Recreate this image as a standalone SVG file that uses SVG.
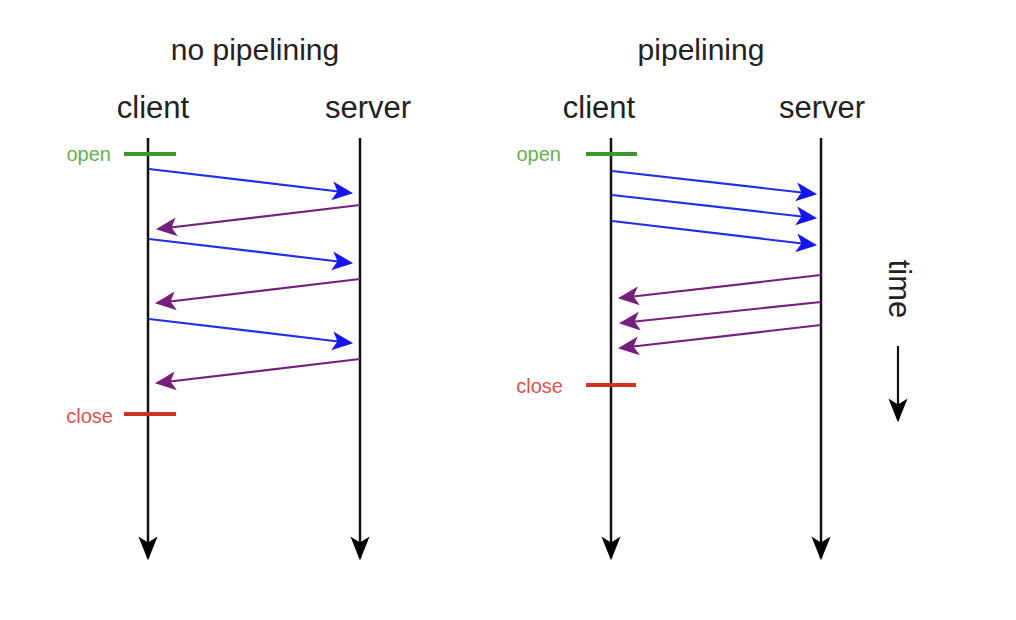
<svg xmlns="http://www.w3.org/2000/svg" width="1016" height="620" viewBox="0 0 1016 620">
<defs>
<style>
text{font-family:"Liberation Sans",Arial,sans-serif;}
.title{font-size:30px;fill:#222;text-anchor:middle;}
.head{font-size:31px;fill:#222;text-anchor:middle;}
.lbl{font-size:20px;}
.life{stroke:#111;stroke-width:2.5;fill:none;}
.req{stroke:#1f2fe6;stroke-width:2.2;fill:none;}
.rsp{stroke:#75207a;stroke-width:2.2;fill:none;}
</style>
<marker id="hk" viewBox="0 0 20 20" refX="18" refY="10" markerWidth="24" markerHeight="24" markerUnits="userSpaceOnUse" orient="auto"><path d="M0,2 L20,10 L0,18 L5,10 Z" fill="#000"/></marker>
<marker id="hb" viewBox="0 0 20 20" refX="18" refY="10" markerWidth="21" markerHeight="21" markerUnits="userSpaceOnUse" orient="auto"><path d="M0,1 L20,10 L0,19 L5,10 Z" fill="#1515f0"/></marker>
<marker id="hp" viewBox="0 0 20 20" refX="18" refY="10" markerWidth="21" markerHeight="21" markerUnits="userSpaceOnUse" orient="auto"><path d="M0,1 L20,10 L0,19 L5,10 Z" fill="#75207a"/></marker>
</defs>
<rect width="1016" height="620" fill="#fff"/>
<g id="left">
<text class="title" x="255" y="60">no pipelining</text>
<g id="l-client"><text class="head" x="153" y="118">client</text><line class="life" x1="148" y1="138" x2="148" y2="558" marker-end="url(#hk)"/></g>
<g id="l-server"><text class="head" x="368" y="118">server</text><line class="life" x1="360" y1="138" x2="360" y2="558" marker-end="url(#hk)"/></g>
<g id="l-open"><line x1="124" y1="154" x2="176" y2="154" stroke="#3f962d" stroke-width="4"/><text class="lbl" x="111" y="161" text-anchor="end" fill="#66b04f">open</text></g>
<g id="l-close"><line x1="124" y1="414" x2="176" y2="414" stroke="#cc3322" stroke-width="4"/><text class="lbl" x="113" y="423" text-anchor="end" fill="#d9534a">close</text></g>
</g>
<g id="right">
<text class="title" x="701" y="60">pipelining</text>
<g id="r-client"><text class="head" x="599" y="118">client</text><line class="life" x1="611" y1="138" x2="611" y2="558" marker-end="url(#hk)"/></g>
<g id="r-server"><text class="head" x="822" y="118">server</text><line class="life" x1="821" y1="138" x2="821" y2="558" marker-end="url(#hk)"/></g>
<g id="r-open"><line x1="586" y1="154" x2="637" y2="154" stroke="#3f962d" stroke-width="4"/><text class="lbl" x="561" y="161" text-anchor="end" fill="#66b04f">open</text></g>
<g id="r-close"><line x1="586" y1="385" x2="636" y2="385" stroke="#cc3322" stroke-width="4"/><text class="lbl" x="563" y="393" text-anchor="end" fill="#d9534a">close</text></g>
<g id="time"><text transform="translate(889,289) rotate(90)" font-size="31" text-anchor="middle" fill="#222">time</text><line x1="898" y1="346" x2="898" y2="420" stroke="#111" stroke-width="2.2" marker-end="url(#hk)"/></g>
</g>
<g id="connectors">
<line class="req" x1="149" y1="169" x2="351" y2="193" marker-end="url(#hb)"/>
<line class="rsp" x1="360" y1="205" x2="158" y2="229" marker-end="url(#hp)"/>
<line class="req" x1="149" y1="239" x2="351" y2="263" marker-end="url(#hb)"/>
<line class="rsp" x1="360" y1="279" x2="157" y2="303" marker-end="url(#hp)"/>
<line class="req" x1="149" y1="319" x2="351" y2="343" marker-end="url(#hb)"/>
<line class="rsp" x1="360" y1="359" x2="157" y2="383" marker-end="url(#hp)"/>
<line class="req" x1="612" y1="171" x2="815" y2="194" marker-end="url(#hb)"/>
<line class="req" x1="612" y1="195" x2="815" y2="218" marker-end="url(#hb)"/>
<line class="req" x1="612" y1="221" x2="815" y2="245" marker-end="url(#hb)"/>
<line class="rsp" x1="821" y1="275" x2="620" y2="298" marker-end="url(#hp)"/>
<line class="rsp" x1="821" y1="302" x2="621" y2="323" marker-end="url(#hp)"/>
<line class="rsp" x1="821" y1="325" x2="620" y2="348" marker-end="url(#hp)"/>
</g>
</svg>
